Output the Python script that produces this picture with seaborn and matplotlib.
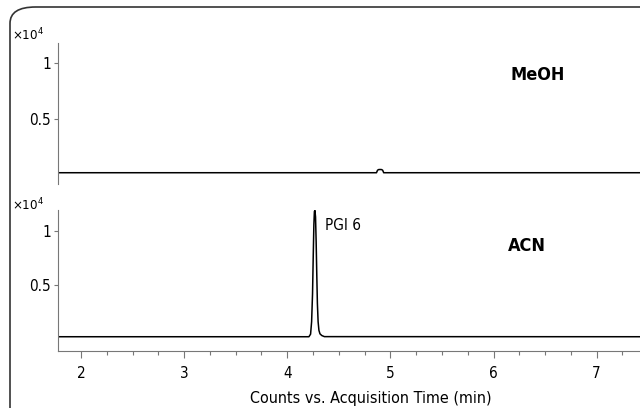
import matplotlib
matplotlib.use('Agg')
import matplotlib.pyplot as plt
from matplotlib.patches import FancyBboxPatch
from matplotlib.ticker import MultipleLocator
import pandas as pd
import seaborn as sns

# MeOH trace (counts vs. time, min)
meoh_time = [1.78, 4.865, 4.875, 4.885, 4.90, 4.915, 4.925, 4.935, 7.45]
meoh_counts = [180, 180, 400, 460, 470, 460, 400, 180, 180]

# ACN trace with the PGI 6 peak
acn_time = [1.78, 4.210, 4.226, 4.236, 4.245, 4.252, 4.258, 4.263, 4.268, 4.274, 4.280,
            4.286, 4.292, 4.299, 4.307, 4.317, 4.335, 4.360, 7.45]
acn_counts = [210, 210, 450, 1600, 4200, 7800, 10600, 11800, 11900, 11300, 9000,
              6000, 3300, 1600, 800, 480, 320, 220, 210]

panel_names = ['MeOH', 'ACN']
x_ticks = [2, 3, 4, 5, 6, 7]
y_ticks = [5000, 10000]
y_tick_labels = ['0.5', '1']

sns.set_style('ticks')
plt.rcParams['font.family'] = ['DejaVu Sans']
plt.rcParams['font.stretch'] = 'condensed'
plt.rcParams['text.color'] = 'black'
plt.rcParams['xtick.labelcolor'] = 'black'
plt.rcParams['ytick.labelcolor'] = 'black'

fig = plt.figure(figsize=(6.4, 4.08), dpi=100)
W, H = 640, 408


def px_axes(left, top, right, bottom):
    return fig.add_axes([left / W, 1 - bottom / H, (right - left) / W, (bottom - top) / H])


# rounded frame around the whole chart
frame = FancyBboxPatch((10 / W, -0.05), 1.2, 1 - 7 / H + 0.05,
                       boxstyle='round,pad=0,rounding_size=0.04',
                       transform=fig.transFigure, fill=False,
                       edgecolor='#333333', linewidth=1.2)
fig.patches.append(frame)

ax1 = px_axes(58, 43, 640, 184)
ax2 = px_axes(58, 210, 640, 351)

traces = [
    pd.DataFrame({'time': meoh_time, 'counts': meoh_counts}),
    pd.DataFrame({'time': acn_time, 'counts': acn_counts}),
]
ylims = [(-830, 11800), (-1110, 11940)]

for ax, df, ylim, name in zip([ax1, ax2], traces, ylims, panel_names):
    sns.lineplot(data=df, x='time', y='counts', ax=ax, color='black', linewidth=1.1)
    ax.set_xlim(1.777, 7.42)
    ax.set_ylim(*ylim)
    ax.set_yticks(y_ticks)
    ax.set_yticklabels(y_tick_labels, fontsize=11, color='black')
    ax.set_xlabel('')
    ax.set_ylabel('')
    for side in ['top', 'right']:
        ax.spines[side].set_visible(False)
    ax.spines['left'].set_color('#777777')
    ax.spines['bottom'].set_color('#777777')
    ax.tick_params(axis='y', length=3, width=0.8, color='#777777', pad=2)
    ax.patch.set_alpha(0)

ax1.spines['bottom'].set_visible(False)
ax1.set_xticks([])

ax2.set_xticks(x_ticks)
ax2.set_xticklabels([str(t) for t in x_ticks], fontsize=11, color='black')
ax2.xaxis.set_minor_locator(MultipleLocator(0.25))
ax2.tick_params(axis='x', which='major', length=5, width=0.8, color='#777777', pad=6)
ax2.tick_params(axis='x', which='minor', length=3, width=0.8, color='#777777')

# panel labels and multiplier
fig.text(538 / W, 1 - 75 / H, 'MeOH', fontsize=13, fontweight='bold', ha='center', va='center')
fig.text(527 / W, 1 - 246 / H, 'ACN', fontsize=13, fontweight='bold', ha='center', va='center')
fig.text(325 / W, 1 - 226 / H, 'PGI 6', fontsize=11, ha='left', va='center')
for ytop in [35, 205]:
    fig.text(12 / W, 1 - ytop / H, '×10$^{4}$', fontsize=9.5, ha='left', va='center')

fig.text(371 / W, 1 - 398 / H, 'Counts vs. Acquisition Time (min)', fontsize=11.5,
         ha='center', va='center')

fig.savefig('out.png', dpi=100, facecolor='white')
